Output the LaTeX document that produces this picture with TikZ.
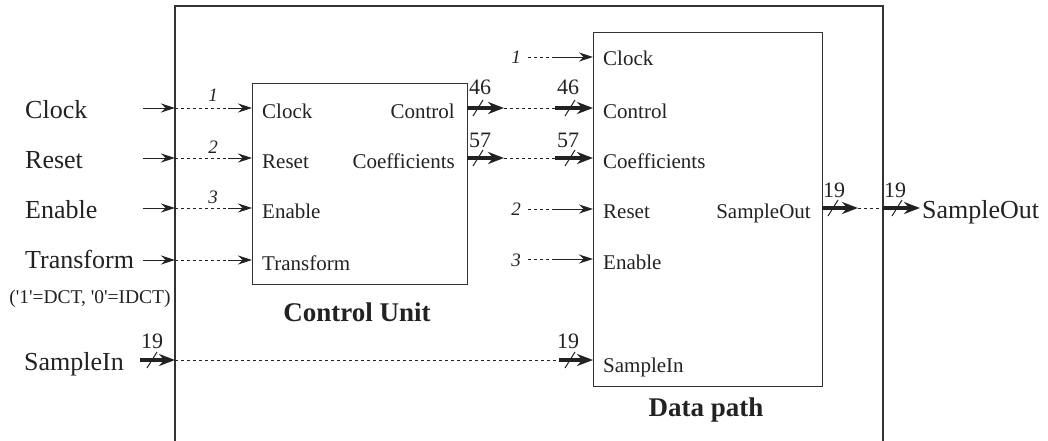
\documentclass[tikz,border=0pt]{standalone}
\usepackage{fontspec}
\setmainfont{Liberation Serif}
\usetikzlibrary{arrows.meta,calc}
\definecolor{ink}{HTML}{222222}
\definecolor{frame}{HTML}{333333}
\tikzset{
  lbl/.style={font=\fontsize{26}{30}\selectfont, inner sep=0pt, text=ink},
  port/.style={font=\fontsize{21}{25}\selectfont, inner sep=0pt, text=ink},
  note/.style={font=\fontsize{19.5}{23}\selectfont, inner sep=0pt, text=ink},
  width/.style={font=\fontsize{22}{26}\selectfont, inner sep=0pt, text=ink},
  idx/.style={font=\fontsize{19}{22}\selectfont\itshape, inner sep=0pt, text=ink},
  title/.style={font=\fontsize{27}{31}\selectfont\bfseries, inner sep=0pt, text=ink},
  box/.style={draw=frame, line width=1.1pt},
  sig/.style={draw=ink, line width=0.9pt, -{Stealth[length=14pt,width=9pt]}},
  bus/.style={draw=ink, line width=3.6pt, -{Stealth[length=16pt,width=12pt]}},
  dsh/.style={draw=ink, line width=0.8pt, dash pattern=on 3pt off 3pt},
  tick/.style={draw=ink, line width=1pt},
  busmark/.pic={\draw[tick] (-5,8) -- (5,-8);},
}
\begin{document}
\begin{tikzpicture}[x=1pt,y=-1pt]
\useasboundingbox (0,0) rectangle (1048,441);

% enclosing system frame (open at the bottom)
\coordinate (fbl) at (175,441);
\coordinate (ftl) at (175,6);
\coordinate (ftr) at (883,6);
\coordinate (fbr) at (883,441);
\draw[box] (fbl) -- (ftl) -- (ftr) -- (fbr);

% the two blocks
\node[box, anchor=north west, minimum width=215pt, minimum height=201pt, inner sep=0pt] (cu) at (252,83) {};
\node[box, anchor=north west, minimum width=229pt, minimum height=354pt, inner sep=0pt] (dp) at (593,32) {};
\node[title] (cut) at (357,312) {Control Unit};
\node[title] (dpt) at (706,410) {Data path};

% external signal names
\node[lbl, anchor=base west] (xclk) at (25,118) {Clock};
\node[lbl, anchor=base west] (xrst) at (25,168) {Reset};
\node[lbl, anchor=base west] (xen)  at (25,218) {Enable};
\node[lbl, anchor=base west] (xtr)  at (25,268) {Transform};
\node[note, anchor=base] (xnote) at (90,303) {(\textquotesingle 1\textquotesingle=DCT, \textquotesingle 0\textquotesingle=IDCT)};
\node[lbl, anchor=base west] (xsi)  at (24,370) {SampleIn};
\node[lbl, anchor=base west] (xso)  at (922,218) {SampleOut};

% control unit ports
\node[port, anchor=base west] (cuclk) at (262,118) {Clock};
\node[port, anchor=base west] (curst) at (262,168) {Reset};
\node[port, anchor=base west] (cuen)  at (262,218) {Enable};
\node[port, anchor=base west] (cutr)  at (262,270) {Transform};
\node[port, anchor=base east] (cuctl) at (455,118) {Control};
\node[port, anchor=base east] (cucof) at (455,168) {Coefficients};

% data path ports
\node[port, anchor=base west] (dpclk) at (603,66) {Clock};
\node[port, anchor=base west] (dpctl) at (603,118) {Control};
\node[port, anchor=base west] (dpcof) at (603,168) {Coefficients};
\node[port, anchor=base west] (dprst) at (603,218) {Reset};
\node[port, anchor=base west] (dpen)  at (603,269) {Enable};
\node[port, anchor=base west] (dpsi)  at (603,372) {SampleIn};
\node[port, anchor=base east] (dpso)  at (811,218) {SampleOut};

% Clock / Reset / Enable / Transform into the control unit
\foreach \n/\y in {clk/108, rst/158, en/208, tr/260}{
  \coordinate (\n S) at (143,\y);
  \coordinate (\n F) at (175,\y);
  \coordinate (\n D) at (228,\y);
  \coordinate (\n P) at (252,\y);
  \draw[sig] (\n S) -- (\n F);
  \draw[dsh] (\n F) -- (\n D);
  \draw[sig] (\n D) -- (\n P);
}
\node[idx, anchor=base] (n1a) at (213,102) {1};
\node[idx, anchor=base] (n2a) at (213,153) {2};
\node[idx, anchor=base] (n3a) at (213,203) {3};

% Clock / Reset / Enable into the data path
\foreach \n/\y/\b/\t in {dclk/57/64/1, drst/209/215/2, den/259/266/3}{
  \node[idx, anchor=base] (\n N) at (516,\b) {\t};
  \coordinate (\n D) at (528,\y);
  \coordinate (\n M) at (555,\y);
  \coordinate (\n P) at (593,\y);
  \draw[dsh] (\n D) -- (\n M);
  \draw[sig] (\n M) -- (\n P);
}

% control unit to data path buses
\foreach \n/\y/\b/\w in {ctl/108/95/46, cof/158/147/57}{
  \coordinate (\n A) at (467,\y);
  \coordinate (\n B) at (504,\y);
  \coordinate (\n C) at (555,\y);
  \coordinate (\n P) at (593,\y);
  \draw[bus] (\n A) -- (\n B);
  \draw[dsh] (\n B) -- (\n C);
  \draw[bus] (\n C) -- (\n P);
  \pic at (478,\y) {busmark};
  \pic at (570,\y) {busmark};
  \node[width, anchor=base] (\n W1) at (480,\b) {\w};
  \node[width, anchor=base] (\n W2) at (568,\b) {\w};
}

% SampleIn bus
\coordinate (siS) at (140,360);
\coordinate (siF) at (175,360);
\coordinate (siD) at (559,360);
\coordinate (siP) at (593,360);
\draw[bus] (siS) -- (siF);
\draw[dsh] (siF) -- (siD);
\draw[bus] (siD) -- (siP);
\pic at (152,360) {busmark};
\pic at (570,360) {busmark};
\node[width, anchor=base] (siW1) at (152,348) {19};
\node[width, anchor=base] (siW2) at (568,348) {19};

% SampleOut bus
\coordinate (soA) at (822,208);
\coordinate (soB) at (858,208);
\coordinate (soF) at (883,208);
\coordinate (soE) at (920,208);
\draw[bus] (soA) -- (soB);
\draw[dsh] (soB) -- (soF);
\draw[bus] (soF) -- (soE);
\pic at (833,208) {busmark};
\pic at (897,208) {busmark};
\node[width, anchor=base west] (soW1) at (823,197) {19};
\node[width, anchor=base west] (soW2) at (884,197) {19};
\end{tikzpicture}
\end{document}
